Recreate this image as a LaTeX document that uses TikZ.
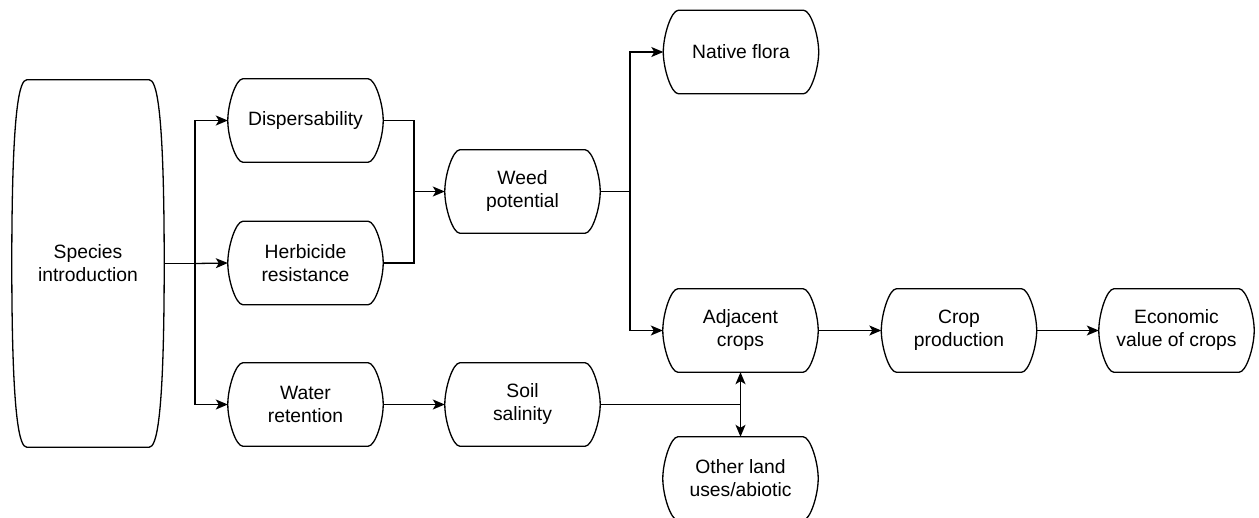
\documentclass[tikz,border=0pt]{standalone}
\usepackage{fontspec}
\setmainfont{Liberation Sans}
\usetikzlibrary{calc,arrows.meta}
\newcommand{\mainf}{\fontsize{19.3pt}{23pt}\selectfont}
\tikzset{
  bulgec/.store in=\bulgec, bulgec=25,
  bulged/.store in=\bulged, bulged=15,
  bulgea/.store in=\bulgea, bulgea=8,
  bshape/.style={minimum width=155pt, minimum height=83pt, inner sep=0pt,
    align=center, font=\mainf,
    append after command={\pgfextra{
      \draw[line width=1.3pt]
        ($(\tikzlastnode.north west)+(\bulged,0)$) -- ($(\tikzlastnode.north east)+(-\bulged,0)$)
        .. controls ($(\tikzlastnode.north east)+(-\bulgea,0)$) and ($(\tikzlastnode.north east)+(0,\bulgec)$) .. (\tikzlastnode.east)
        .. controls ($(\tikzlastnode.south east)+(0,-\bulgec)$) and ($(\tikzlastnode.south east)+(-\bulgea,0)$) .. ($(\tikzlastnode.south east)+(-\bulged,0)$)
        -- ($(\tikzlastnode.south west)+(\bulged,0)$)
        .. controls ($(\tikzlastnode.south west)+(\bulgea,0)$) and ($(\tikzlastnode.south west)+(0,-\bulgec)$) .. (\tikzlastnode.west)
        .. controls ($(\tikzlastnode.north west)+(0,\bulgec)$) and ($(\tikzlastnode.north west)+(\bulgea,0)$) .. cycle;
    }}},
  conn/.style={line width=1.3pt},
  arr/.style={line width=1.3pt, -{Stealth[length=12pt,width=10pt,inset=3pt]}},
  darr/.style={line width=1.3pt, {Stealth[length=12pt,width=10pt,inset=3pt]}-{Stealth[length=12pt,width=10pt,inset=3pt]}}
}
\begin{document}
\begin{tikzpicture}[x=1pt,y=-1pt]
\useasboundingbox (0,0) rectangle (1259,517);
\clip (0,0) rectangle (1259,517);
\fill[white] (0,0) rectangle (1259,517);
\node[bshape, bulgec=110, bulged=15, bulgea=6, minimum width=152pt, minimum height=367pt] (species) at (88,263.5) {Species\\introduction};
\node[bshape] (disp) at (305.5,120.5) {Dispersability};
\node[bshape] (herb) at (305.5,263) {Herbicide\\resistance};
\node[bshape] (water) at (305.5,404.5) {Water\\retention};
\node[bshape] (weed) at (522.5,191.5) {Weed\\potential};
\node[bshape] (soil) at (522.5,404.5) {Soil\\salinity};
\node[bshape] (native) at (741,52) {Native flora};
\node[bshape] (adj) at (740.5,330.5) {Adjacent\\crops};
\node[bshape] (other) at (740.5,478.5) {Other land\\uses/abiotic};
\node[bshape] (cprod) at (959,330.5) {Crop\\production};
\node[bshape] (econ) at (1176.5,330.5) {Economic\\value of crops};
\coordinate (sj) at (195,263.5);
\coordinate (mj) at (414,191.5);
\coordinate (wj) at (630,191.5);
\coordinate (oj) at (740.5,404.5);
\draw[conn] (species.east) -- (sj);
\draw[arr] (sj) |- (disp.west);
\draw[arr] (sj) -- (herb.west);
\draw[arr] (sj) |- (water.west);
\draw[conn] (disp.east) -| (mj);
\draw[conn] (herb.east) -| (mj);
\draw[arr] (mj) -- (weed.west);
\draw[conn] (weed.east) -- (wj);
\draw[arr] (wj) |- (native.west);
\draw[arr] (wj) |- (adj.west);
\draw[arr] (adj.east) -- (cprod.west);
\draw[arr] (cprod.east) -- (econ.west);
\draw[arr] (water.east) -- (soil.west);
\draw[conn] (soil.east) -- (oj);
\draw[darr] (adj.south) -- (other.north);
\end{tikzpicture}
\end{document}
